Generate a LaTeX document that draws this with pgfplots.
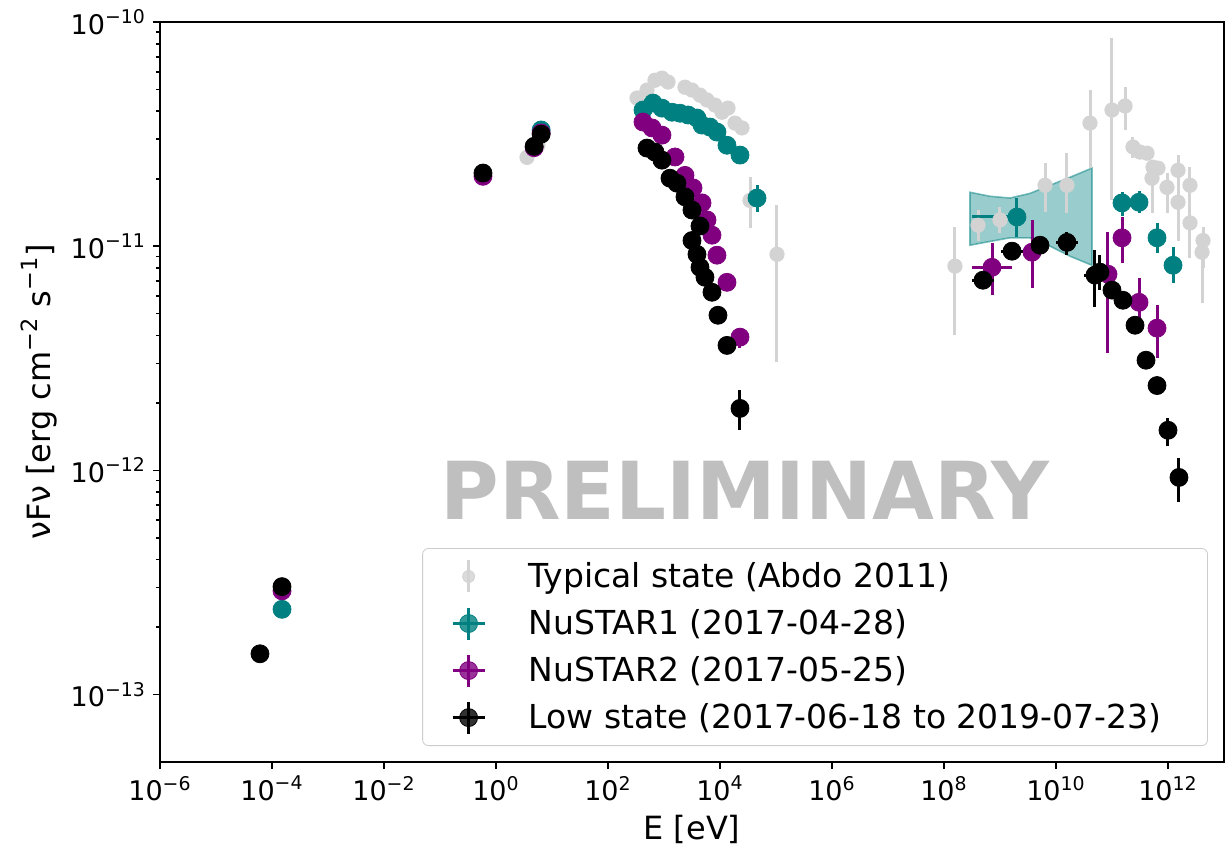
\documentclass[border=0pt]{standalone}
\usepackage{fontspec}
\setmainfont{DejaVu Sans}
\usepackage{pgfplots}
\pgfplotsset{compat=1.18}
\definecolor{lgray}{RGB}{211,211,211}
\definecolor{tealc}{RGB}{0,128,128}
\definecolor{purp}{RGB}{128,0,128}
\pgfplotsset{
  sed/.style={only marks, mark=*, color=#1, mark options={fill=#1, draw=#1},
    error bars/x dir=both, error bars/x explicit, error bars/y dir=both, error bars/y explicit,
    error bars/error mark=none, error bars/error bar style={line width=1.5pt, color=#1}},
  legimg/.style={legend image code/.code={
    \path[draw=none, fill=none] (0pt,0pt) -- (45pt,0pt);
    \draw[##1, mark=none, line width=1.5pt] (17pt,-8pt) -- (17pt,8pt);
    \draw[##1, mark=none, line width=1.5pt] (9pt,0pt) -- (25pt,0pt);
    \draw[##1] plot coordinates {(17pt,0pt)};}},
  legimggray/.style={legend image code/.code={
    \path[draw=none, fill=none] (0pt,0pt) -- (45pt,0pt);
    \draw[##1, mark=none, line width=1.2pt] (17pt,-8pt) -- (17pt,8pt);
    \draw[##1, mark size=3pt] plot coordinates {(17pt,0pt)};}},
}
\begin{document}
\begin{tikzpicture}
\begin{axis}[
  scale only axis, width=532pt, height=370pt,
  xmode=log, ymode=log,
  xmin=1e-6, xmax=1e13, ymin=5e-14, ymax=1e-10,
  xtick={1e-6,1e-4,1e-2,1,1e2,1e4,1e6,1e8,1e10,1e12},
  xticklabels={10\textsuperscript{−6},10\textsuperscript{−4},10\textsuperscript{−2},10\textsuperscript{0},10\textsuperscript{2},10\textsuperscript{4},10\textsuperscript{6},10\textsuperscript{8},10\textsuperscript{10},10\textsuperscript{12}},
  xminorticks=false,
  ytick={1e-13,1e-12,1e-11,1e-10},
  yticklabels={10\textsuperscript{−13},10\textsuperscript{−12},10\textsuperscript{−11},10\textsuperscript{−10}},
  tick pos=left, tick align=outside,
  major tick length=3.5pt, minor tick length=2pt,
  every tick/.style={black, line width=0.8pt},
  axis line style={line width=1.2pt},
  tick label style={font=\fontsize{13.5}{15}\selectfont},
  label style={font=\fontsize{16}{19}\selectfont},
  xlabel={E [eV]},
  ylabel={νFν [erg cm\textsuperscript{−2} s\textsuperscript{−1}]},
  legend cell align=left,
  legend style={at={(1,0)}, anchor=south east, xshift=-8pt, yshift=8pt,
    font=\fontsize{16.5}{19}\selectfont, draw=black!20, rounded corners=3pt,
    fill=white, fill opacity=0.8, text opacity=1, row sep=5.5pt,
    inner xsep=6pt, inner ysep=5pt},
]
\node[font=\bfseries\fontsize{40}{40}\selectfont, text=black!25] at (rel axis cs:0.55,0.3676) {PRELIMINARY};

% butterfly
\addplot[fill=tealc, fill opacity=0.4, draw=tealc, draw opacity=0.5, line width=0.8pt, forget plot] coordinates {
 (2.91e8,1.74e-11) (6.62e8,1.67e-11) (1.51e9,1.64e-11) (3.43e9,1.72e-11) (7.82e9,1.87e-11) (1.78e10,2.03e-11) (4.39e10,2.23e-11)
 (4.39e10,8.22e-12) (1.78e10,9.02e-12) (7.82e9,1.0e-11) (3.43e9,1.09e-11) (1.51e9,1.09e-11) (6.62e8,1.05e-11) (2.91e8,1.01e-11)} -- cycle;

% Typical state
\addplot[mark size=3.6pt, sed=lgray, legimggray] coordinates {
 (3.58,2.49e-11) (5.62,2.82e-11)
 (330,4.58e-11) (497,4.97e-11) (690,5.5e-11) (920,5.62e-11) (1178,5.4e-11) (2371,5.12e-11) (3162,4.97e-11) (4394,4.72e-11)
 (5860,4.49e-11) (8147,4.26e-11) (10860,3.96e-11) (13900,4.13e-11) += (0,0.3e-11) -= (0,0.3e-11)
 (18530,3.54e-11) (24700,3.37e-11)
 (34360,1.6e-11) += (0,0.43e-11) -= (0,0.4e-11)
 (104200,9.2e-12) += (0,6.0e-12) -= (0,6.17e-12)
 (1.57e8,8.15e-12) += (0,4.05e-12) -= (0,4.14e-12)
 (4.05e8,1.24e-11) += (0,0.21e-11) -= (0,0.18e-11)
 (1e9,1.31e-11) += (0,0.18e-11) -= (0,0.17e-11)
 (6.37e9,1.87e-11) += (0,0.48e-11) -= (0,0.45e-11)
 (1.57e10,1.87e-11) += (0,0.73e-11) -= (0,0.47e-11)
 (4.05e10,3.54e-11) += (0,1.43e-11) -= (0,1.31e-11)
 (1e11,4.05e-11) += (0,4.4e-11) -= (0,2.45e-11)
 (1.71e11,4.22e-11) += (0,0.91e-11) -= (0,0.92e-11)
 (2.37e11,2.77e-11) += (0,0.3e-11) -= (0,0.3e-11)
 (3.16e11,2.63e-11) (4.22e11,2.6e-11) (5.4e11,2.25e-11)
 (5.18e11,2.01e-11) += (0,0.24e-11) -= (0,0.61e-11)
 (6.63e11,2.23e-11)
 (9.6e11,1.83e-11) += (0,0.29e-11) -= (0,0.43e-11)
 (1.51e12,2.18e-11) += (0,0.37e-11) -= (0,0.4e-11)
 (1.51e12,1.57e-11) += (0,0.4e-11) -= (0,0.51e-11)
 (2.47e12,1.87e-11) += (0,0.38e-11) -= (0,0.98e-11)
 (2.47e12,1.27e-11) += (0,0.22e-11) -= (0,0.21e-11)
 (4.22e12,1.06e-11) += (0,0.16e-11) -= (0,0.26e-11)
 (4.05e12,9.4e-12) += (0,1.2e-12) -= (0,3.83e-12)
};
\addlegendentry{Typical state (Abdo 2011)}

% NuSTAR1
\addplot[mark size=4.5pt, sed=tealc, legimg] coordinates {
 (1.51e-4,2.4e-13) (6.4,3.3e-11)
 (422,4.05e-11) (636,4.35e-11) (920,4.13e-11) (1390,3.96e-11) (1931,3.92e-11) (2683,3.85e-11) (3882,3.73e-11)
 (4775,3.47e-11) (6630,3.40e-11) (8830,3.23e-11) (13335,2.82e-11) (22760,2.55e-11)
 (45800,1.64e-11) += (0,0.23e-11) -= (0,0.22e-11)
 (2.01e9,1.35e-11) += (0,0.29e-11) -= (1.69e9,0.25e-11)
 (1.51e11,1.56e-11) += (0,0.18e-11) -= (0,0.19e-11)
 (3.04e11,1.57e-11) += (0,0.2e-11) -= (0,0.17e-11)
 (6.37e11,1.09e-11) += (0,0.18e-11) -= (0,0.16e-11)
 (1.23e12,8.22e-12) += (0,1.68e-12) -= (0,1.38e-12)
};
\addlegendentry{NuSTAR1 (2017-04-28)}

% NuSTAR2
\addplot[mark size=4.5pt, sed=purp, legimg] coordinates {
 (1.51e-4,2.9e-13) (0.586,2.05e-11) (4.8,2.75e-11) (6.4,3.2e-11)
 (422,3.58e-11) (611,3.37e-11) (920,3.13e-11) (1572,2.50e-11) (2371,2.07e-11) (3297,1.82e-11) (4775,1.56e-11)
 (5860,1.31e-11) (7197,1.12e-11) (8830,9.12e-12) (13335,6.90e-12)
 (22760,3.93e-12) += (0,0.37e-12) -= (0,0.43e-12)
 (7.2e8,8.05e-12) += (9.3e8,2.25e-12) -= (4.05e8,2.01e-12)
 (3.73e9,9.4e-12) += (0,3.7e-12) -= (0,2.9e-12)
 (8.48e10,7.5e-12) += (0,4.05e-12) -= (0,4.17e-12)
 (1.51e11,1.09e-11) += (0,0.26e-11) -= (0,0.25e-11)
 (3.04e11,5.62e-12) += (0,1.58e-12) -= (0,1.42e-12)
 (6.37e11,4.31e-12) += (0,1.15e-12) -= (0,1.15e-12)
};
\addlegendentry{NuSTAR2 (2017-05-25)}

% Low state
\addplot[mark size=4.5pt, sed=black, legimg] coordinates {
 (6.1e-5,1.52e-13) (1.51e-4,3.03e-13) (0.586,2.12e-11) (4.8,2.79e-11) (6.4,3.16e-11)
 (497,2.74e-11) (690,2.63e-11) (920,2.42e-11) (1280,2.01e-11) (1706,1.91e-11) (2371,1.66e-11) (3162,1.45e-11)
 (4394,1.23e-11) (3162,1.06e-11) (3882,9.2e-12) (4394,8.05e-12) (5395,7.27e-12) (7197,6.23e-12) (9208,4.92e-12)
 (13335,3.61e-12)
 (22760,1.89e-12) += (0,0.39e-12) -= (0,0.38e-12)
 (4.97e8,7.05e-12) += (2.9e8,0.5e-12) -= (1.83e8,0.5e-12)
 (1.64e9,9.5e-12) += (0.96e9,0.6e-12) -= (0.6e9,0.6e-12)
 (5.18e9,1.01e-11) += (0,0.08e-11) -= (0,0.08e-11)
 (1.57e10,1.04e-11) += (9.2e9,0.115e-11) -= (5.8e9,0.128e-11)
 (4.97e10,7.43e-12) += (2.9e10,2.17e-12) -= (1.83e10,2.08e-12)
 (6.1e10,7.66e-12) += (0,1.5e-12) -= (0,1.3e-12)
 (1e11,6.37e-12) += (0,0.5e-12) -= (0,0.5e-12)
 (1.57e11,5.74e-12) += (0,0.4e-12) -= (0,0.4e-12)
 (2.58e11,4.44e-12) += (0,0.4e-12) -= (0,0.4e-12)
 (4.05e11,3.1e-12) += (0,0.25e-12) -= (0,0.25e-12)
 (6.37e11,2.39e-12) += (0,0.2e-12) -= (0,0.2e-12)
 (1e12,1.51e-12) += (0,0.2e-12) -= (0,0.22e-12)
 (1.57e12,9.3e-13) += (0,2.0e-13) -= (0,2.1e-13)
};
\addlegendentry{Low state (2017-06-18 to 2019-07-23)\rule{15pt}{0pt}}
\end{axis}
\path (current axis.south west) ++(-80pt,-44.5pt) coordinate (bbl);
\path (current axis.north east) ++(4pt,11pt) coordinate (btr);
\path (bbl) rectangle (btr);
\end{tikzpicture}
\end{document}
